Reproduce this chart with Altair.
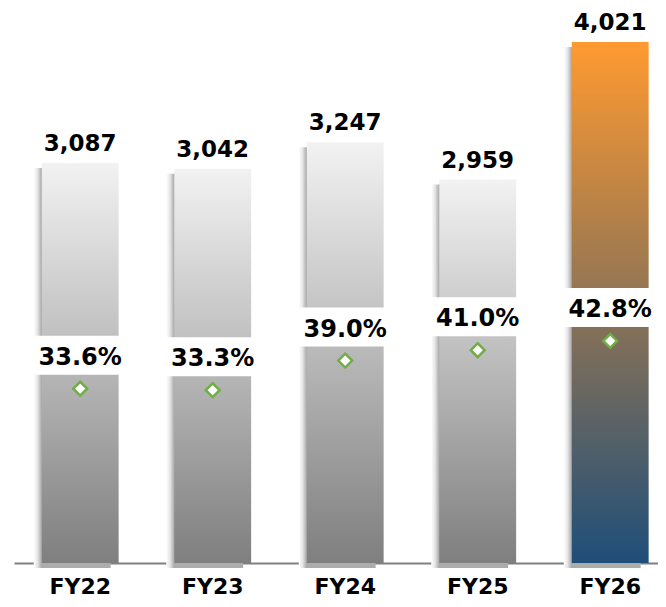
import altair as alt
import pandas as pd

years = ["FY22", "FY23", "FY24", "FY25", "FY26"]
revenue = [3087, 3042, 3247, 2959, 4021]
margin = [0.336, 0.333, 0.390, 0.410, 0.428]

df = pd.DataFrame({"year": years, "revenue": revenue, "margin": margin})

FONT = "DejaVu Sans"

xenc = alt.X(
    "year:N",
    sort=years,
    title=None,
    scale=alt.Scale(paddingInner=0.42, paddingOuter=0.1402, align=0.748),
    axis=alt.Axis(
        domainColor="#808080", domainWidth=2, ticks=False, tickSize=0,
        labelPadding=30, labelBaseline="alphabetic", labelFont=FONT, labelFontSize=22,
        labelFontWeight="bold", labelColor="#000000", labelAngle=0, grid=False,
    ),
)
yrev = alt.Y("revenue:Q", scale=alt.Scale(domain=[0, 4021], nice=False, zero=True), axis=None, title=None)
ypct = alt.Y("margin:Q", scale=alt.Scale(domain=[0, 1.004], nice=False, zero=False), axis=None, title=None)

base = alt.Chart(df)

gray_grad = {
    "gradient": "linear", "x1": 0, "x2": 0, "y1": 0, "y2": 1,
    "stops": [{"offset": 0, "color": "#f2f2f2"}, {"offset": 1, "color": "#7f7f7f"}],
}
orange_grad = {
    "gradient": "linear", "x1": 0, "x2": 0, "y1": 0, "y2": 1,
    "stops": [{"offset": 0, "color": "#ff9a30"}, {"offset": 1, "color": "#1f4e79"}],
}
shadow_grad = {
    "gradient": "linear", "x1": 0, "x2": 1, "y1": 0, "y2": 0,
    "stops": [
        {"offset": 0, "color": "#ffffff"},
        {"offset": 0.05, "color": "#e4e4e4"},
        {"offset": 0.1, "color": "#acacac"},
        {"offset": 1, "color": "#acacac"},
    ],
}

shadow = base.mark_bar(color=shadow_grad, xOffset=-8, yOffset=5).encode(x=xenc, y=yrev)
gray_bars = base.transform_filter("datum.year != 'FY26'").mark_bar(color=gray_grad).encode(x=xenc, y=yrev)
orange_bar = base.transform_filter("datum.year == 'FY26'").mark_bar(color=orange_grad).encode(x=xenc, y=yrev)

value_text = base.mark_text(
    font=FONT, fontSize=23, fontWeight="bold", color="#000000",
    baseline="alphabetic", dy=-12,
).encode(x=xenc, y=yrev, text=alt.Text("revenue:Q", format=","))

pct_box = base.mark_bar(color="#ffffff", width=100, yOffset=-53, y2Offset=-14).encode(
    x=xenc, y=ypct, y2=alt.Y2("margin:Q")
)
pct_text = base.mark_text(
    font=FONT, fontSize=24, fontWeight="bold", color="#000000",
    baseline="alphabetic", dy=-24,
).encode(x=xenc, y=ypct, text=alt.Text("margin:Q", format=".1%"))
diamonds = base.mark_point(
    shape="diamond", filled=True, fill="#ffffff", stroke="#70ad47", strokeWidth=2.5,
    size=190, opacity=1,
).encode(x=xenc, y=ypct)

chart = (
    alt.layer(shadow, gray_bars, orange_bar, value_text, pct_box, pct_text, diamonds)
    .resolve_scale(y="independent")
    .properties(
        width=644, height=521,
        padding={"left": 6, "top": 34, "right": 0, "bottom": 36},
        autosize=alt.AutoSizeParams(type="none"),
    )
    .configure_view(stroke=None)
)

chart.save("out.html", embed_options={"renderer": "svg", "actions": False})
